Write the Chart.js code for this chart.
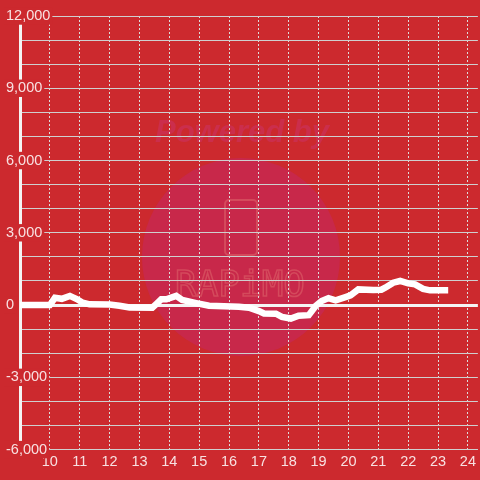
<!DOCTYPE html>
<html>
<head>
<meta charset="utf-8">
<script src="https://cdn.jsdelivr.net/npm/chart.js@4/dist/chart.umd.min.js"></script>
<style>
  html, body { margin: 0; padding: 0; background: #cc292e; }
  #c { display: block; }
</style>
</head>
<body>
<canvas id="c" width="480" height="480"></canvas>
<script>
// ---- data (hours of day, value) ----
const hours = [9.0, 10.0, 10.17, 10.4, 10.67, 10.9, 11.1, 11.33, 12.0, 12.33, 12.67, 13.43, 13.57, 13.73, 13.9,
  14.23, 14.43, 14.9, 15.33, 16.33, 16.67, 17.0, 17.17, 17.57, 17.77, 18.07, 18.33, 18.67, 18.9, 19.1,
  19.33, 19.57, 19.9, 20.07, 20.33, 20.83, 21.1, 21.23, 21.5, 21.73, 22.0, 22.23, 22.5, 22.73, 23.23];
const values = [0, 0, 300, 260, 380, 250, 100, 30, 20, -30, -100, -110, 50, 240, 240,
  380, 210, 80, -30, -70, -110, -250, -350, -360, -490, -560, -440, -420, -40, 170,
  290, 200, 330, 400, 650, 630, 640, 720, 930, 1000, 900, 860, 670, 610, 610];
const xTickLabels = ['10','11','12','13','14','15','16','17','18','19','20','21','22','23','24'];
const yLabelStep = 3000;

const BG = '#cc292e';
const TEXT = 'rgba(255,255,255,0.86)';
const GRID = '#cfcfcf';
const FONT = 'Liberation Sans, Arial, sans-serif';

const points = hours.map((h, i) => ({ x: h, y: values[i] }));

const bgPlugin = {
  id: 'bgWatermark',
  beforeDraw(chart) {
    const ctx = chart.ctx;
    ctx.save();
    ctx.fillStyle = BG;
    ctx.fillRect(0, 0, chart.width, chart.height);
    // faint watermark
    ctx.fillStyle = '#c8284a';
    ctx.beginPath();
    ctx.arc(241, 257, 99, 0, Math.PI * 2);
    ctx.fill();
    ctx.fillStyle = '#cb2e4c';
    ctx.font = 'italic bold 31px ' + FONT;
    ctx.textAlign = 'center';
    ctx.textBaseline = 'middle';
    ctx.fillText('Powered by', 242, 133);
    ctx.strokeStyle = '#d44a5c';
    ctx.lineWidth = 2;
    ctx.beginPath();
    if (ctx.roundRect) ctx.roundRect(225, 200, 32, 55, 4); else ctx.rect(225, 200, 32, 55);
    ctx.stroke();
    ctx.font = '36px DejaVu Sans Mono, monospace';
    ctx.lineWidth = 1.5;
    ctx.strokeText('RAPiMO', 240, 287);
    ctx.restore();
  }
};

new Chart(document.getElementById('c'), {
  type: 'line',
  data: {
    datasets: [{
      data: points,
      borderColor: '#ffffff',
      borderWidth: 6.5,
      pointRadius: 0,
      pointHoverRadius: 0,
      tension: 0,
      fill: false,
      borderCapStyle: 'square',
      borderJoinStyle: 'miter'
    }]
  },
  options: {
    responsive: false,
    animation: false,
    events: [],
    layout: { autoPadding: false, padding: { left: 6, right: 0, top: 16, bottom: 5 } },
    plugins: { legend: { display: false }, tooltip: { enabled: false } },
    scales: {
      x: {
        type: 'linear',
        min: 9,
        max: 24.333,
        ticks: {
          stepSize: 1,
          includeBounds: false,
          autoSkip: false,
          maxRotation: 0,
          padding: 4,
          color: TEXT,
          font: { family: FONT, size: 14.5 },
          callback: (v) => xTickLabels.includes(String(v)) ? String(v) : ''
        },
        grid: { color: '#dcdcdc', lineWidth: 1, drawTicks: false },
        border: { display: true, color: GRID, width: 1, dash: [2, 2] }
      },
      y: {
        min: -6000,
        max: 12000,
        afterFit: (s) => { s.width = 14; },
        ticks: {
          stepSize: 1000,
          mirror: true,
          padding: -14,
          color: TEXT,
          font: { family: FONT, size: 14.5 },
          showLabelBackdrop: true,
          backdropColor: (c) => (c.tick && c.tick.value % yLabelStep === 0) ? BG : 'rgba(0,0,0,0)',
          backdropPadding: { left: 2, right: 2, top: 0, bottom: 0 },
          callback: (v) => v % yLabelStep === 0 ? v.toLocaleString('en-US') : ''
        },
        grid: {
          drawTicks: false,
          color: (c) => (c.tick && c.tick.value === 0) ? '#f4f4f4' : GRID,
          lineWidth: (c) => (c.tick && c.tick.value === 0) ? 3 : 1
        },
        border: { display: true, color: '#f4f4f4', width: 3 }
      }
    }
  },
  plugins: [bgPlugin]
});
</script>
</body>
</html>
